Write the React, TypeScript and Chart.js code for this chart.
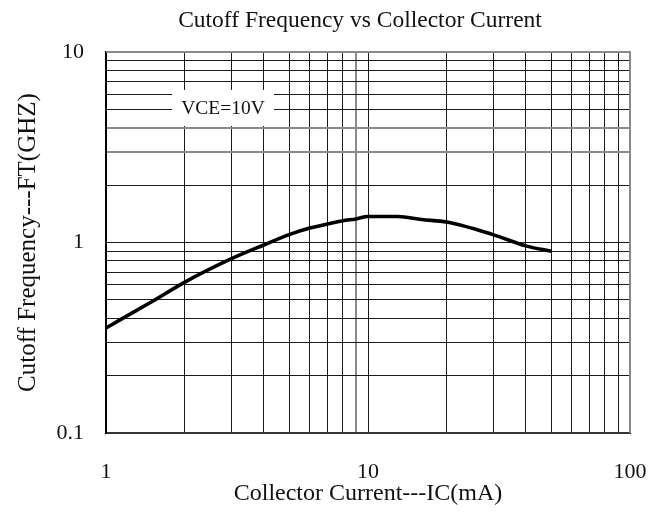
import React, { useEffect, useRef } from "react";
import { Chart, registerables } from "chart.js";

Chart.register(...registerables);

const currentMA = [1, 1.5, 2, 3, 4, 5, 6, 7, 8, 9, 10, 13, 16, 20, 30, 40, 50];
const cutoffGHz = [0.356, 0.49, 0.62, 0.82, 0.97, 1.1, 1.19, 1.25, 1.3, 1.33, 1.37, 1.37, 1.32, 1.28, 1.1, 0.96, 0.9];

const xGridValues = [1, 2, 3, 4, 5, 6, 7, 8, 9, 10, 20, 30, 40, 50, 60, 70, 80, 90, 100];
const yGridValues = [0.1, 0.2, 0.3, 0.4, 0.5, 0.6, 0.7, 0.8, 0.9, 1, 2, 3, 4, 5, 6, 7, 8, 9, 10];
const xTickLabels = ["1", "10", "100"];
const yTickLabels = ["0.1", "1", "10"];

const chartTitle = "Cutoff Frequency vs Collector Current";
const xTitle = "Collector Current---IC(mA)";
const yTitle = "Cutoff Frequency---FT(GHZ)";
const noteText = "VCE=10V";

const FONT = "'Liberation Serif', 'DejaVu Serif', serif";

const labelFor = (v: number, list: string[]) => {
  const s = String(v);
  return list.includes(s) ? s : "";
};

const framePlugin = {
  id: "frameAndNote",
  beforeDatasetsDraw(chart: any) {
    const { ctx, chartArea } = chart;
    const { left, top, right, bottom } = chartArea;
    ctx.save();
    // note box
    const bx = left + 66;
    const by = top + 38;
    const bw = 102;
    const bh = 36;
    ctx.fillStyle = "#ffffff";
    ctx.fillRect(bx, by, bw, bh);
    ctx.fillStyle = "#111";
    ctx.font = `19.5px ${FONT}`;
    ctx.textAlign = "center";
    ctx.textBaseline = "middle";
    ctx.fillText(noteText, bx + bw / 2, by + 19);
    // top & right frame
    ctx.strokeStyle = "#8a8a8a";
    ctx.lineWidth = 2;
    ctx.beginPath();
    ctx.moveTo(left, top);
    ctx.lineTo(right, top);
    ctx.lineTo(right, bottom);
    ctx.stroke();
    ctx.restore();
  },
  afterDraw(chart: any) {
    const { ctx, chartArea } = chart;
    ctx.save();
    ctx.fillStyle = "#111";
    ctx.font = `23.5px ${FONT}`;
    ctx.textAlign = "center";
    ctx.textBaseline = "middle";
    ctx.fillText(chartTitle, (chartArea.left + chartArea.right) / 2 - 8, 21);
    ctx.restore();
  },
};

export default function App() {
  const ref = useRef<HTMLCanvasElement | null>(null);

  useEffect(() => {
    if (!ref.current) return;
    const chart = new Chart(ref.current, {
      type: "line",
      data: {
        datasets: [
          {
            data: currentMA.map((x, i) => ({ x, y: cutoffGHz[i] })),
            borderColor: "#000",
            borderWidth: 3.6,
            pointRadius: 0,
            cubicInterpolationMode: "monotone",
            fill: false,
          },
        ],
      },
      options: {
        responsive: false,
        animation: false,
        layout: { padding: { left: 0, right: 34, top: 52, bottom: 0 } },
        plugins: {
          legend: { display: false },
          tooltip: { enabled: false },
          title: { display: false },
        },
        scales: {
          x: {
            type: "logarithmic",
            min: 1,
            max: 100,
            afterBuildTicks: (scale: any) => {
              scale.ticks = xGridValues.map((v) => ({ value: v }));
            },
            afterFit: (scale: any) => {
              scale.height = 80;
              scale.paddingLeft = 0;
              scale.paddingRight = 0;
            },
            ticks: {
              autoSkip: false,
              maxRotation: 0,
              padding: 26,
              color: "#111",
              font: { family: FONT, size: 22 },
              callback: (v: any) => labelFor(Number(v), xTickLabels),
            },
            grid: {
              drawTicks: false,
              color: (c: any) => (c.tick && c.tick.value === 9 ? "#8a8a8a" : "#1a1a1a"),
              lineWidth: (c: any) => (c.tick && c.tick.value === 9 ? 2 : 1),
            },
            border: { display: true, color: "#333", width: 2 },
            title: {
              display: true,
              text: xTitle,
              color: "#111",
              font: { family: FONT, size: 24 },
              padding: { top: 0, bottom: 5 },
            },
          },
          y: {
            type: "logarithmic",
            min: 0.1,
            max: 10,
            afterBuildTicks: (scale: any) => {
              scale.ticks = yGridValues.map((v) => ({ value: v }));
            },
            afterFit: (scale: any) => {
              scale.width = 106;
              scale.paddingTop = 0;
              scale.paddingBottom = 0;
            },
            ticks: {
              autoSkip: false,
              padding: 22,
              color: "#111",
              font: { family: FONT, size: 22 },
              callback: (v: any) => labelFor(Number(v), yTickLabels),
            },
            grid: {
              drawTicks: false,
              color: (c: any) =>
                c.tick && (c.tick.value === 3 || c.tick.value === 4) ? "#8a8a8a" : "#1a1a1a",
              lineWidth: (c: any) =>
                c.tick && (c.tick.value === 3 || c.tick.value === 4) ? 2 : 1,
            },
            border: { display: true, color: "#000", width: 2 },
            title: {
              display: true,
              text: yTitle,
              color: "#111",
              font: { family: FONT, size: 25 },
              padding: { top: 13, bottom: 0 },
            },
          },
        },
      },
      plugins: [framePlugin],
    } as any);
    return () => chart.destroy();
  }, []);

  return (
    <div style={{ position: "fixed", left: 0, top: 0, width: 664, height: 513, background: "#fff" }}>
      <canvas ref={ref} width={664} height={513} />
    </div>
  );
}
